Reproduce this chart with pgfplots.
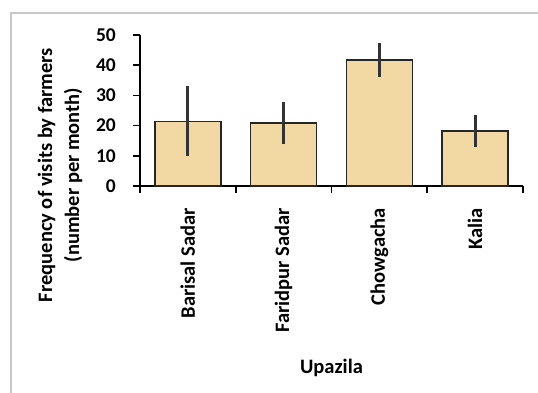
\documentclass[border=0pt]{standalone}
\usepackage{pgfplots}
\pgfplotsset{compat=1.18}
\usepackage{fontspec}
\setmainfont{Carlito}
\definecolor{barfill}{RGB}{242,217,164}
\definecolor{framegray}{RGB}{200,200,200}
\begin{document}
\begin{tikzpicture}[x=1pt,y=1pt]
\useasboundingbox (0pt,0pt) rectangle (538pt,393pt);
\draw[framegray,line width=2pt] (11pt,0pt) -- (11pt,380pt) -- (538pt,380pt);
\begin{axis}[
  at={(140pt,207pt)}, anchor=south west,
  scale only axis, width=383pt, height=151pt,
  xmin=-0.5, xmax=3.5, ymin=0, ymax=50,
  axis x line*=bottom, axis y line*=left,
  axis line style={black,line width=2pt},
  xtick={-0.5,0.5,1.5,2.5,3.5}, xticklabels={},
  extra x ticks={0,1,2,3},
  extra x tick labels={Barisal Sadar,Faridpur Sadar,Chowgacha,Kalia},
  extra x tick style={major tick length=0pt, tick label style={rotate=90,anchor=east,font=\bfseries\fontsize{20.5}{24}\selectfont,inner sep=0pt,xshift=-22pt}},
  ytick={0,10,...,50},
  tick align=outside,
  major tick length=7pt,
  tick style={black,line width=1.6pt},
  yticklabel style={font=\bfseries\fontsize{19.5}{22}\selectfont,inner sep=0pt,xshift=-17pt},
  /pgf/number format/assume math mode=true,
  clip=false,
]
\addplot[ybar, bar width=66pt, fill=barfill, draw=black!85, line width=1.6pt,
  error bars/.cd, y dir=both, y explicit,
  error bar style={line width=3pt,black!80}, error mark=none]
  coordinates {
    (0,21.4) +- (0,11.6)
    (1,20.8) +- (0,6.9)
    (2,41.8) +- (0,5.6)
    (3,18.3) +- (0,5.3)
  };
\end{axis}
\node[rotate=90, align=center, font=\bfseries\fontsize{20.5}{27}\selectfont] at (60pt,218pt) {Frequency of visits by farmers\\(number per month)};
\node[font=\bfseries\fontsize{20.5}{24}\selectfont] at (331.5pt,25pt) {Upazila};
\end{tikzpicture}
\end{document}
